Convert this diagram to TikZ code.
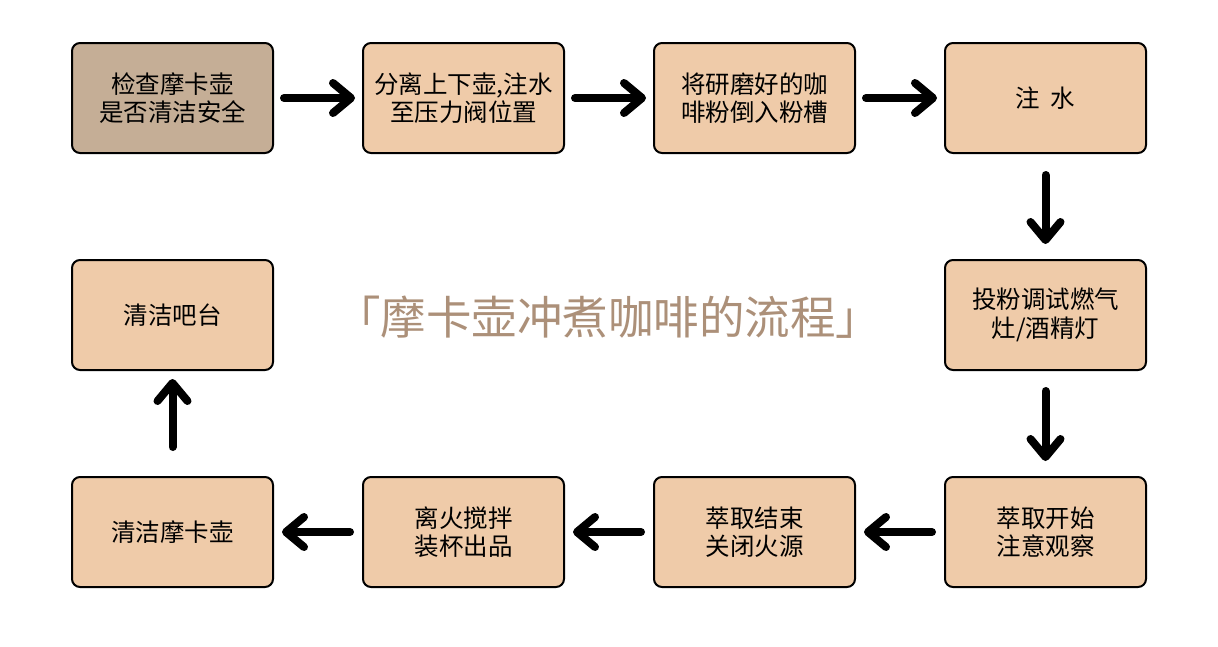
\documentclass[tikz,border=0pt]{standalone}
\usepackage{fontspec}
\newfontfamily\cjk{Noto Sans CJK SC}
\usetikzlibrary{positioning}
\usetikzlibrary{arrows.meta}
\definecolor{boxfill}{HTML}{EFCBA9}
\definecolor{startfill}{HTML}{C5AE96}
\definecolor{titlebrown}{HTML}{AC9079}
\tikzstyle{stepbox} = [rectangle,rounded corners=8pt,draw=black,line width=2pt,
fill=boxfill,minimum width=201pt,minimum height=110pt,align=center,
font=\cjk\fontsize{24.5}{28.5}\selectfont, node distance=105pt and 88pt]
\tikzstyle{startbox} = [stepbox,fill=startfill]
\tikzstyle{heading} = [font=\cjk\fontsize{45.5}{46}\selectfont, text=titlebrown]
\tikzstyle{flow} = [line width=8pt, line cap=round, shorten >=7pt, shorten <=10pt]
\tikzset{>={Straight Barb[length=18pt,width=30pt,round]}}
\newcommand{\link}[3][]{ %
  % Connect all nodes #2 to all nodes #3.
  \foreach \x in {#2} { %
    \foreach \y in {#3} { %
      \path (\x) edge [->,flow,#1] (\y) ;%
    } ;
  } ;
}

\begin{document}
\begin{tikzpicture}[x=1pt,y=1pt]
  \useasboundingbox (0,0) rectangle (1218,-646);
  \node[startbox] (check) at (172.5,-98) {检查摩卡壶\\是否清洁安全};
  \node[stepbox, right=of check] (split) {分离上下壶,注水\\至压力阀位置};
  \node[stepbox, right=of split] (powder) {将研磨好的咖\\啡粉倒入粉槽};
  \node[stepbox, right=of powder] (water) {注\hspace{11pt}水};
  \node[stepbox, below=of water] (heat) {投粉调试燃气\\灶/酒精灯};
  \node[stepbox, below=of heat] (extract) {萃取开始\\注意观察};
  \node[stepbox, left=of extract] (stop) {萃取结束\\关闭火源};
  \node[stepbox, left=of stop] (serve) {离火搅拌\\装杯出品};
  \node[stepbox, left=of serve] (clean) {清洁摩卡壶};
  \node[stepbox, above=of clean] (bar) {清洁吧台};

  \node[heading] (title) at (608,-317) {「摩卡壶冲煮咖啡的流程」};

  \link {check} {split};
  \link {split} {powder};
  \link {powder} {water};
  \link[shorten <=21pt, shorten >=15pt] {water} {heat};
  \link[shorten <=20pt, shorten >=15pt] {heat} {extract};
  \link[shorten <=12pt, shorten >=8pt] {extract} {stop};
  \link[shorten <=12pt, shorten >=8pt] {stop} {serve};
  \link[shorten <=12pt, shorten >=8pt] {serve} {clean};
  \link[shorten <=29pt, shorten >=8pt] {clean} {bar};
\end{tikzpicture}
\end{document}
